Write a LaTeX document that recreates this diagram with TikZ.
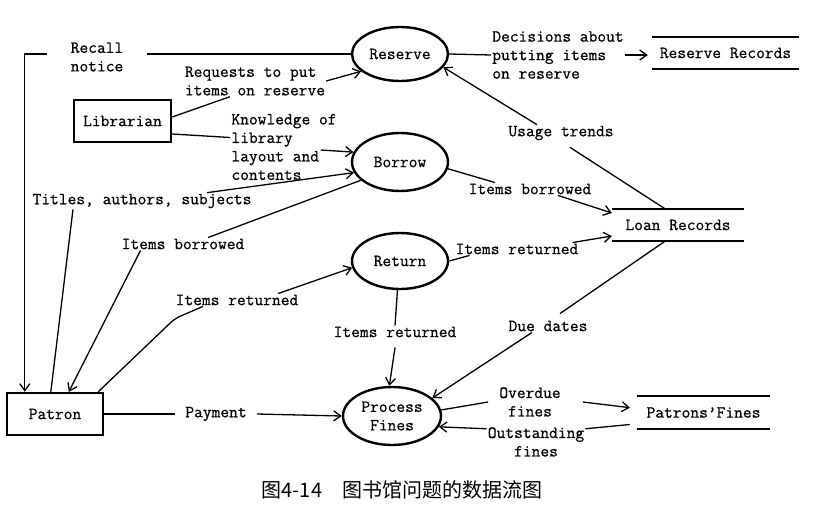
\documentclass[tikz,border=0pt]{standalone}
\usepackage{fontspec}
\setmonofont{Latin Modern Mono}[FakeBold=0.7]
\newfontfamily\cjkfont{Noto Sans CJK SC}
\usetikzlibrary{shapes.geometric,arrows.meta,calc}

\begin{document}
\begin{tikzpicture}[x=1pt,y=-1pt,
		font=\fontsize{17}{18.5}\selectfont\ttfamily,
		process/.style={ellipse,draw,line width=2.4pt,inner sep=0pt},
		entity/.style={rectangle,draw,line width=2.4pt,minimum width=97pt,minimum height=42pt},
		store/.style={minimum height=32pt,inner sep=0pt},
		lbl/.style={inner sep=1pt},
		wire/.style={line width=1.3pt,rounded corners=6pt},
		flow/.style={line width=1.3pt,-{Straight Barb[length=7pt,width=10pt]}}]
		\useasboundingbox (0,0) rectangle (827,511);
		%processes
		\node[process,minimum width=96pt,minimum height=54pt] (reserve) at (400,54) {Reserve};
		\node[process,minimum width=96pt,minimum height=58pt] (borrow) at (400,162) {Borrow};
		\node[process,minimum width=96pt,minimum height=56pt] (return) at (400,261) {Return};
		\node[process,minimum width=98pt,minimum height=58pt,align=center] (fines) at (392,416) {Process\\Fines};
		%entities
		\node[entity] (librarian) at (122.5,121) {Librarian};
		\node[entity,minimum width=96pt] (patron) at (55,414) {Patron};
		%data stores
		\node[store,minimum width=147pt] (rrec) at (725.5,53) {Reserve Records};
		\node[store,minimum width=132pt] (lrec) at (678,225) {Loan Records};
		\node[store,minimum width=133pt,minimum height=33pt] (pfines) at (703.5,412.5) {Patrons’Fines};
		\foreach \s in {rrec,lrec,pfines}{
			\draw[line width=2.2pt] (\s.north west) -- (\s.north east);
			\draw[line width=2.2pt] (\s.south west) -- (\s.south east);
		}
		
		%labels
		\node[lbl,align=left,inner xsep=24pt] (recall) at (97,57) {Recall\\notice};
		\node[lbl,align=left] (req) at (255,81) {Requests to put\\items on reserve};
		\node[lbl,align=left] (know) at (284,147) {Knowledge of\\library\\layout and\\contents};
		\node[lbl] (titles) at (142,201) {Titles, authors, subjects};
		\node[lbl] (ib1) at (183,244) {Items borrowed};
		\node[lbl] (ir1) at (237,300) {Items returned};
		\node[lbl] (ir2) at (395,332) {Items returned};
		\node[lbl] (ir3) at (517,249) {Items returned};
		\node[lbl] (ib2) at (530,189) {Items borrowed};
		\node[lbl] (usage) at (561,133) {Usage trends};
		\node[lbl] (due) at (548,326) {Due dates};
		\node[lbl,align=left] (dec) at (558,55) {Decisions about\\putting items\\on reserve};
		\node[lbl] (pay) at (216,414) {Payment};
		\node[lbl,align=center] (over) at (530,402) {Overdue\\fines};
		\node[lbl,align=center] (outst) at (536,442) {Outstanding\\fines};
		
		%flows:
		\draw[wire] (reserve.west) -- (recall.east |- reserve.west);
		\draw[flow] (recall.west |- reserve.west) -| ([xshift=19pt]patron.north west);
		\draw[wire] ([yshift=4pt]librarian.east) -- ([xshift=-25pt]req.south);
		\draw[flow] (req.east) -- (reserve.204);
		\draw[wire] ([yshift=-13pt]librarian.east) -- (know.170);
		\draw[flow] ([xshift=-17pt,yshift=-3pt]know.east) -- (borrow.168);
		\draw[wire] ([xshift=45pt]patron.north west) -- ([xshift=-69pt]titles.south);
		\draw[flow] ([xshift=65pt]titles.north) -- (borrow.193);
		\draw[wire] (borrow.205) -- ([xshift=25pt]ib1.north);
		\draw[flow] ([xshift=20pt]ib1.south west) -- ([xshift=63pt]patron.north west);
		\draw[wire] ([xshift=-6pt]patron.north east) -- ([shift={(-62pt,-12pt)}]ir1.south) -- ([xshift=-34pt]ir1.south);
		\draw[flow] ([xshift=41pt]ir1.north) -- (return.188);
		\draw[wire] (return.265) -- (ir2.north);
		\draw[flow] ([yshift=-9pt]ir2.south) -- (fines.95);
		\draw[wire] (return.east) -- ([xshift=15pt]ir3.south west);
		\draw[flow] ([xshift=-7pt]ir3.north east) -- ([yshift=-11pt]lrec.west);
		\draw[wire] (borrow.352) -- ([xshift=-35pt]ib2.north);
		\draw[flow] ([xshift=28pt]ib2.south) -- ([yshift=12pt]lrec.west);
		\draw[wire] ([xshift=-13pt]lrec.north) -- ([xshift=9pt,yshift=-6pt]usage.south);
		\draw[flow] ([xshift=-24pt]usage.north) -- (reserve.343);
		\draw[wire] ([xshift=-13pt]lrec.south) -- ([xshift=12pt,yshift=6pt]due.north);
		\draw[flow] ([xshift=-16pt]due.south) -- (fines.24);
		\draw[wire] (reserve.east) -- (dec.west);
		\draw[flow,shorten >=4pt] (dec.east) -- (dec.east -| rrec.west);
		\draw[wire] (patron.east) -- ([xshift=-9pt]pay.west);
		\draw[flow] ([xshift=9pt]pay.east) -- (fines.west);
		\draw[wire] (fines.7) -- ([xshift=-10pt]over.west);
		\draw[flow,shorten >=7pt] ([xshift=21pt]over.east) -- ([yshift=4pt]pfines.west);
		\draw[wire] ([shift={(-7pt,-12pt)}]pfines.west) -- (outst.15);
		\draw[flow] (outst.165) -- (fines.347);
		
		%caption
		\node (caption) at (402,490) {\cjkfont\fontsize{20}{22}\selectfont 图4-14　图书馆问题的数据流图};
\end{tikzpicture}
\end{document}
